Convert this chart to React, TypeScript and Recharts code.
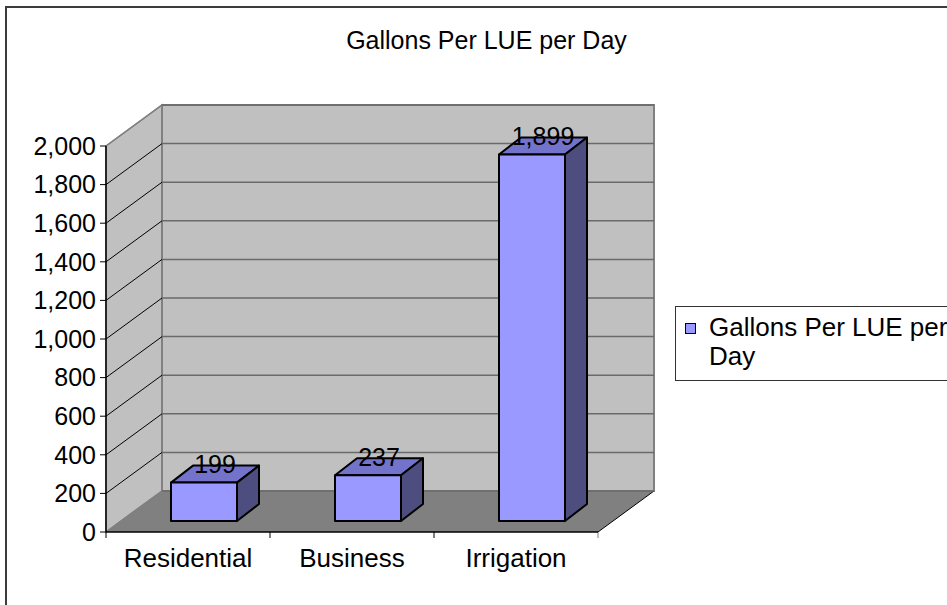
import React from 'react';
import { BarChart, Bar, XAxis, YAxis, CartesianGrid, ReferenceArea, Legend, LabelList } from 'recharts';

const categories = ['Residential', 'Business', 'Irrigation'];
const gallonsPerLue = [199, 237, 1899];
const yTicks = [0, 200, 400, 600, 800, 1000, 1200, 1400, 1600, 1800, 2000];
const seriesName = 'Gallons Per LUE per Day';
const chartTitle = 'Gallons Per LUE per Day';

const data = categories.map((name, i) => ({ name, value: gallonsPerLue[i] }));

const FONT = '"Liberation Sans", Arial, Helvetica, sans-serif';
const FS = 25;
const FS_CAT = 26;
const WALL_DX = 56;
const WALL_DY = 41;
const BAR_OFF_X = 16;
const BAR_OFF_Y = 11;
const BAR_DX = 22;
const BAR_DY = 17;
const FRONT = '#9999FF';
const TOP = '#7373CC';
const SIDE = '#4D4D80';

const fmt = (v: number) => Number(v).toLocaleString('en-US');

const Walls = (p: any) => {
  const { x, y, width, height } = p;
  const L = x, R = x + width, T = y, B = y + height;
  const n = categories.length;
  const ticks = [];
  for (let k = 0; k <= n; k++) {
    const tx = L + (k * width) / n;
    ticks.push(<line key={k} x1={tx} y1={B} x2={tx} y2={B + 6} stroke={k === n ? '#808080' : '#000'} strokeWidth={1} />);
  }
  return (
    <g>
      <polygon
        points={`${L},${T} ${L + WALL_DX},${T - WALL_DY} ${L + WALL_DX},${B - WALL_DY} ${L},${B}`}
        fill="#C0C0C0"
        stroke="#808080"
        strokeWidth={1.5}
      />
      <rect x={L + WALL_DX} y={T - WALL_DY} width={width} height={height} fill="#C0C0C0" stroke="#808080" strokeWidth={2} />
      <polygon
        points={`${L},${B} ${L + WALL_DX},${B - WALL_DY} ${R + WALL_DX},${B - WALL_DY} ${R},${B}`}
        fill="#808080"
      />
      <line x1={R} y1={B} x2={R + WALL_DX} y2={B - WALL_DY} stroke="#000" strokeWidth={1} />
      {ticks}
    </g>
  );
};

const gridLine = (p: any) => {
  const { x1, y1, x2, y2, index } = p;
  const edge = index === 0 || index === yTicks.length - 1;
  return (
    <g key={`grid-${index}-${y1}`}>
      <line x1={x1 + WALL_DX} y1={y1 - WALL_DY} x2={x2 + WALL_DX} y2={y2 - WALL_DY} stroke="#6a6a6a" strokeWidth={1.5} />
      <line
        x1={x1}
        y1={y1}
        x2={x1 + WALL_DX}
        y2={y1 - WALL_DY}
        stroke={edge ? '#808080' : '#000'}
        strokeWidth={edge ? 1.5 : 1}
      />
    </g>
  );
};

const Box3D = (p: any) => {
  const { x, y, width, height } = p;
  if (width == null || height == null) return null;
  const fx = x + BAR_OFF_X;
  const fy = y - BAR_OFF_Y;
  const w = width;
  const h = height;
  return (
    <g stroke="#000" strokeWidth={2} strokeLinejoin="round">
      <polygon points={`${fx},${fy} ${fx + BAR_DX},${fy - BAR_DY} ${fx + w + BAR_DX},${fy - BAR_DY} ${fx + w},${fy}`} fill={TOP} />
      <polygon
        points={`${fx + w},${fy} ${fx + w + BAR_DX},${fy - BAR_DY} ${fx + w + BAR_DX},${fy + h - BAR_DY} ${fx + w},${fy + h}`}
        fill={SIDE}
      />
      <rect x={fx} y={fy} width={w} height={h} fill={FRONT} />
    </g>
  );
};

const BarValueLabel = (p: any) => {
  const vb = p.viewBox || {};
  const x = p.x ?? vb.x;
  const y = p.y ?? vb.y;
  const width = p.width ?? vb.width;
  if (x == null || y == null) return null;
  return (
    <text
      x={x + width / 2 + BAR_OFF_X + BAR_DX / 2}
      y={y - BAR_OFF_Y - BAR_DY / 2 - 1}
      textAnchor="middle"
      fontFamily={FONT}
      fontSize={FS}
      fill="#000"
    >
      {fmt(p.value)}
    </text>
  );
};

const LegendBox = () => (
  <div
    style={{
      position: 'relative',
      width: 290,
      height: 73,
      border: '1px solid #333',
      background: '#fff',
      fontFamily: FONT,
      fontSize: FS_CAT,
      color: '#000',
    }}
  >
    <div
      style={{
        position: 'absolute',
        left: 9,
        top: 16,
        width: 9,
        height: 9,
        background: FRONT,
        border: '1.5px solid #000',
      }}
    />
    <div style={{ position: 'absolute', left: 33, top: 6, width: 242, lineHeight: '29px', textAlign: 'left' }}>
      {seriesName}
    </div>
  </div>
);

export default function App() {
  return (
    <div style={{ position: 'absolute', left: 0, top: 0, width: 947, height: 605, overflow: 'hidden', background: '#fff' }}>
      <div
        style={{
          position: 'absolute',
          left: 5,
          top: 6,
          width: 1000,
          height: 700,
          border: '2px solid #3c3c3c',
        }}
      />
      <div
        style={{
          position: 'absolute',
          left: 0,
          top: 28,
          width: 973,
          textAlign: 'center',
          fontFamily: FONT,
          fontSize: FS,
          lineHeight: '25px',
          color: '#000',
        }}
      >
        {chartTitle}
      </div>
      <div style={{ position: 'absolute', left: 0, top: 0 }}>
        <BarChart
          width={947}
          height={605}
          data={data}
          margin={{ top: 146, right: 349, bottom: 33, left: 6 }}
        >
          <ReferenceArea y1={0} y2={2000} ifOverflow="visible" shape={(p: any) => <Walls {...p} />} zIndex={-200} />
          <CartesianGrid horizontal={gridLine} vertical={false} />
          <XAxis
            dataKey="name"
            tickLine={false}
            axisLine={{ stroke: '#000', strokeWidth: 1.5 }}
            tick={{ fill: '#000', fontSize: FS_CAT, fontFamily: FONT }}
            tickSize={8}
            tickMargin={9}
            height={40}
            interval={0}
          />
          <YAxis
            type="number"
            width={100}
            domain={[0, 2000]}
            ticks={yTicks}
            interval={0}
            tickFormatter={fmt}
            tickSize={6}
            tickMargin={4}
            axisLine={{ stroke: '#000', strokeWidth: 1.5 }}
            tickLine={{ stroke: '#000' }}
            tick={{ fill: '#000', fontSize: FS, fontFamily: FONT }}
          />
          <Bar dataKey="value" name={seriesName} fill={FRONT} barSize={66} isAnimationActive={false} shape={Box3D}>
            <LabelList dataKey="value" content={BarValueLabel} />
          </Bar>
          <Legend
            layout="horizontal"
            verticalAlign="middle"
            align="center"
            content={() => <LegendBox />}
            wrapperStyle={{ position: 'absolute', left: 675, top: 306, width: 292, height: 75 }}
          />
        </BarChart>
      </div>
    </div>
  );
}
